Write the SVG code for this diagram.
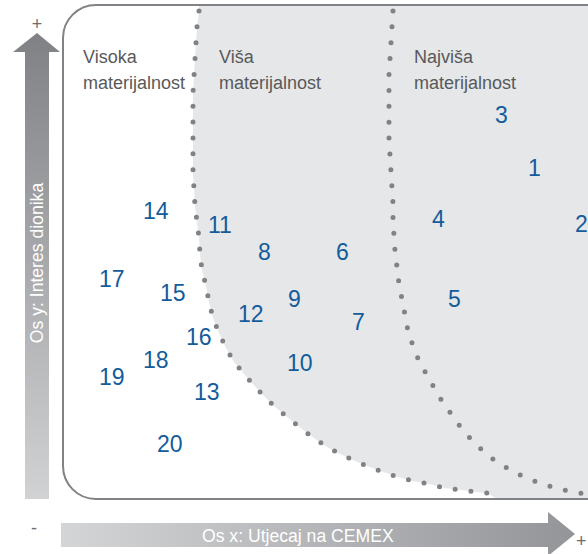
<svg xmlns="http://www.w3.org/2000/svg" width="588" height="554" viewBox="0 0 588 554">
<defs>
<style>
.lbl{font-family:"Liberation Sans",Arial,sans-serif;font-size:18px;fill:#58595b}
.n{font-family:"Liberation Sans",Arial,sans-serif;font-size:23px;fill:#135c9c}
.ax{font-family:"Liberation Sans",Arial,sans-serif;font-size:17.6px;fill:#ffffff}
.sg{font-family:"Liberation Sans",Arial,sans-serif;font-size:18px;fill:#6d6e71}
.dots{fill:none;stroke:#808285;stroke-width:5;stroke-linecap:round;stroke-dasharray:0 15.9}
</style>
<clipPath id="frameClip"><rect x="63" y="5" width="620" height="494" rx="33"/></clipPath>
<linearGradient id="gy" gradientUnits="userSpaceOnUse" x1="0" y1="33" x2="0" y2="499">
<stop offset="0" stop-color="#808184"/><stop offset="1" stop-color="#d1d2d4"/>
</linearGradient>
<linearGradient id="gx" gradientUnits="userSpaceOnUse" x1="61" y1="0" x2="575" y2="0">
<stop offset="0" stop-color="#d4d5d7"/><stop offset="1" stop-color="#939598"/>
</linearGradient>
</defs>
<rect width="588" height="554" fill="#ffffff"/>
<g id="regions" clip-path="url(#frameClip)">
<path fill="#e6e7e8" d="M199,0 L199,11 L197,27 L196,43 L195,59 L194,76 L193,93 L193,108 L193,125 L193,141 L193,157 L193,173 L194,189 L195,206 L197,222 L199,238 L200,254 L202,270 L206,286 L209,302 L213,318 L219,333 L226,348 L234,362 L251,382 L262,394 L274,406 L286,416 L298,426 L311,436 L324,445 L338,453 L353,460 L367,466 L383,472 L398,477 L413,481 L429,484 L445,488 L461,490 L477,492 L489,494 L497,499 L700,499 L700,0 Z"/>
</g>
<g id="connectors">
<path class="dots" d="M199,11 L197,27 L196,43 L195,59 L194,76 L193,93 L193,108 L193,125 L193,141 L193,157 L193,173 L194,189 L195,206 L197,222 L199,238 L200,254 L202,270 L206,286 L209,302 L213,318 L219,333 L226,348 L234,362 L251,382 L262,394 L274,406 L286,416 L298,426 L311,436 L324,445 L338,453 L353,460 L367,466 L383,472 L398,477 L413,481 L429,484 L445,488 L461,490 L477,492 L490,493.5"/>
<path class="dots" d="M393,11 L392,27 L391,43 L390,59 L389,75 L389,91 L389,107 L389,123 L389,139 L390,155 L391,172 L392,188 L393,203 L393,219 L394,236 L395,251 L397,267 L399,284 L402,299 L405,315 L408,331 L413,346 L419,361 L432,384 L440,398 L449,411 L459,425 L469,437 L481,449 L493,459 L507,468 L522,476 L537,482 L552,487 L568,491 L582,493.5"/>
<rect x="63" y="5" width="620" height="494" rx="33" fill="none" stroke="#808285" stroke-width="2"/>
</g>
<g id="y-axis">
<path fill="url(#gy)" d="M25,499 L25,52 L13,52 L37,33 L60,52 L49,52 L49,499 Z"/>
<text class="ax" transform="translate(43,263) rotate(-90)" text-anchor="middle">Os y: Interes dionika</text>
<text class="sg" x="37" y="30" text-anchor="middle">+</text>
</g>
<g id="x-axis">
<path fill="url(#gx)" d="M61,523 L548,523 L548,512 L575,534 L548,556 L548,547 L61,547 Z"/>
<text class="ax" x="202" y="542">Os x: Utjecaj na CEMEX</text>
<text class="sg" x="34" y="534" text-anchor="middle">-</text>
<text class="sg" x="576" y="547">+</text>
</g>
<g id="label-visoka"><text class="lbl" x="83" y="63">Visoka</text><text class="lbl" x="83" y="89">materijalnost</text></g>
<g id="label-visa"><text class="lbl" x="219" y="63">Viša</text><text class="lbl" x="219" y="89">materijalnost</text></g>
<g id="label-najvisa"><text class="lbl" x="414" y="63">Najviša</text><text class="lbl" x="414" y="89">materijalnost</text></g>
<g id="numbers">
<text id="n1" class="n" x="528" y="176">1</text>
<text id="n2" class="n" x="575" y="232">2</text>
<text id="n3" class="n" x="495" y="123">3</text>
<text id="n4" class="n" x="432" y="227">4</text>
<text id="n5" class="n" x="448" y="307">5</text>
<text id="n6" class="n" x="336" y="260">6</text>
<text id="n7" class="n" x="352" y="330">7</text>
<text id="n8" class="n" x="258" y="260">8</text>
<text id="n9" class="n" x="288" y="307">9</text>
<text id="n10" class="n" x="287" y="371">10</text>
<text id="n11" class="n" x="208" y="233">11</text>
<text id="n12" class="n" x="238" y="322">12</text>
<text id="n13" class="n" x="194" y="400">13</text>
<text id="n14" class="n" x="143" y="219">14</text>
<text id="n15" class="n" x="160" y="301">15</text>
<text id="n16" class="n" x="186" y="345">16</text>
<text id="n17" class="n" x="99" y="287">17</text>
<text id="n18" class="n" x="143" y="368">18</text>
<text id="n19" class="n" x="99" y="385">19</text>
<text id="n20" class="n" x="157" y="452">20</text>
</g>
</svg>
